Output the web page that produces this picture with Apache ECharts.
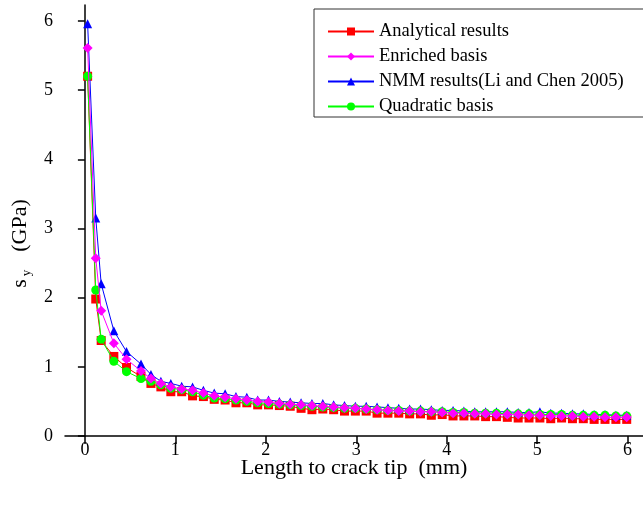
<!DOCTYPE html>
<html><head><meta charset="utf-8">
<script src="https://cdn.jsdelivr.net/npm/echarts@6/dist/echarts.min.js"></script>
<style>html,body{margin:0;padding:0;background:#fff}#c{width:643px;height:510px}</style>
</head><body><div id="c"></div>
<script>
var xs = [0.03,0.12,0.18,0.32,0.46,0.62,0.73,0.84,0.95,1.07,1.19,1.31,1.43,1.55,1.67,1.79,1.91,2.03,2.15,2.27,2.39,2.51,2.63,2.75,2.87,2.99,3.11,3.23,3.35,3.47,3.59,3.71,3.83,3.95,4.07,4.19,4.31,4.43,4.55,4.67,4.79,4.91,5.03,5.15,5.27,5.39,5.51,5.63,5.75,5.87,5.99];
var analytical = [5.20,1.98,1.38,1.15,0.99,0.86,0.76,0.71,0.64,0.64,0.58,0.57,0.53,0.52,0.48,0.48,0.45,0.45,0.44,0.43,0.40,0.38,0.39,0.38,0.36,0.36,0.36,0.33,0.33,0.33,0.32,0.32,0.30,0.31,0.29,0.29,0.29,0.28,0.28,0.27,0.26,0.26,0.26,0.25,0.26,0.25,0.25,0.24,0.24,0.24,0.24];
var enriched = [5.61,2.57,1.81,1.34,1.11,0.94,0.83,0.76,0.71,0.68,0.66,0.62,0.58,0.56,0.54,0.52,0.50,0.49,0.47,0.46,0.45,0.44,0.43,0.42,0.41,0.40,0.39,0.38,0.37,0.36,0.36,0.35,0.35,0.34,0.33,0.33,0.32,0.32,0.31,0.31,0.31,0.30,0.30,0.29,0.29,0.29,0.28,0.28,0.27,0.27,0.27];
var nmm = [5.96,3.15,2.20,1.52,1.22,1.04,0.89,0.79,0.76,0.72,0.71,0.66,0.62,0.61,0.57,0.56,0.52,0.52,0.50,0.49,0.48,0.47,0.47,0.45,0.44,0.43,0.43,0.42,0.41,0.40,0.39,0.39,0.38,0.37,0.37,0.36,0.35,0.35,0.35,0.35,0.34,0.34,0.35,0.33,0.33,0.32,0.32,0.31,0.31,0.30,0.30];
var quadratic = [5.20,2.11,1.40,1.08,0.93,0.83,0.79,0.74,0.69,0.67,0.64,0.59,0.55,0.54,0.52,0.50,0.48,0.47,0.46,0.45,0.44,0.43,0.42,0.41,0.40,0.40,0.39,0.38,0.37,0.37,0.36,0.36,0.35,0.35,0.34,0.34,0.33,0.33,0.33,0.32,0.32,0.32,0.31,0.31,0.31,0.30,0.30,0.30,0.30,0.29,0.29];
var xTicks = [0,1,2,3,4,5,6];
var yTicks = [0,1,2,3,4,5,6];
var names = ['Analytical results','Enriched basis','NMM results(Li and Chen 2005)','Quadratic basis'];

function pairs(ys){ return xs.map(function(x,i){ return [x, ys[i]]; }); }
var font = 'Liberation Serif';
var chart = echarts.init(document.getElementById('c'), null, {renderer:'canvas'});
function mk(name, ys, color, symbol, size, z){
  return {name:name, type:'line', data:pairs(ys), symbol:symbol, symbolSize:size,
    lineStyle:{color:color, width:1}, itemStyle:{color:color}, z:z, animation:false};
}
chart.setOption({
  animation:false,
  textStyle:{fontFamily:font},
  grid:{left:65, right:0, top:5, bottom:74, containLabel:false},
  legend:{orient:'vertical', left:314, top:9, padding:[13,40,1,13],
    borderColor:'#333', borderWidth:1, itemWidth:46, itemHeight:10, itemGap:6,
    textStyle:{fontFamily:font, fontSize:18.5, lineHeight:18, color:'#000'}, data:names},
  xAxis:{type:'value', min:-0.22, max:6.17, interval:1,
    name:'Length to crack tip  (mm)', nameLocation:'middle', nameGap:21, nameMoveOverlap:false,
    nameTextStyle:{fontFamily:font, fontSize:22, color:'#000'},
    axisLine:{lineStyle:{color:'#000', width:1.5}},
    axisTick:{inside:false, length:8, lineStyle:{color:'#000', width:1.5}, customValues:xTicks},
    axisLabel:{fontFamily:font, fontSize:18, color:'#000', margin:5, customValues:xTicks},
    splitLine:{show:false}},
  yAxis:{type:'value', min:0, max:6.23, interval:1,
    name:'{s|s}{sub|y}{g|(GPa)}', nameLocation:'middle', nameGap:32, nameRotate:90,
    nameTextStyle:{fontFamily:font, fontSize:22, color:'#000',
      rich:{s:{fontFamily:font,fontSize:22,color:'#000'},
            sub:{fontFamily:font,fontSize:13,color:'#000',padding:[13,0,0,3]},
            g:{fontFamily:font,fontSize:22,color:'#000',padding:[0,46,0,18]}}},
    axisLine:{lineStyle:{color:'#000', width:1.5}},
    axisTick:{inside:false, length:7, lineStyle:{color:'#000', width:1.5}, customValues:yTicks},
    axisLabel:{fontFamily:font, fontSize:18, color:'#000', margin:12, customValues:yTicks},
    splitLine:{show:false}},
  series:[
    mk(names[0], analytical, '#ff0000', 'rect', 9, 2),
    mk(names[1], enriched, '#ff00ff', 'diamond', 10, 5),
    mk(names[2], nmm, '#0000ff', 'triangle', 9, 3),
    mk(names[3], quadratic, '#00ff00', 'circle', 9, 4)
  ]
});
</script></body></html>
